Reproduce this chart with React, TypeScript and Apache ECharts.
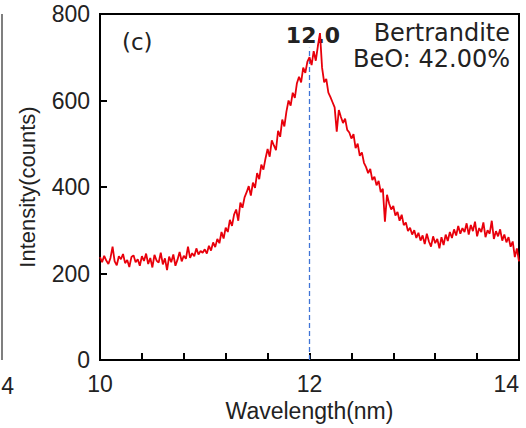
import React, { useEffect, useRef } from "react";
import * as echarts from "echarts";

const xStart = 10;
const xStep = 0.02;

const intensity: number[] = [
  // 10.00 - 10.98
  238, 226, 241, 230, 222, 236, 262, 228, 219, 240,
  233, 245, 224, 231, 215, 238, 242, 226, 233, 218,
  240, 229, 246, 222, 236, 214, 243, 230, 225, 248,
  221, 235, 208, 239, 226, 244, 218, 232, 250, 228,
  241, 234, 262, 236, 247, 240, 258, 244, 252, 248,
  // 11.00 - 11.98
  256, 246, 264, 253, 272, 261, 280, 270, 296, 281,
  306, 296, 324, 310, 336, 348, 322, 364, 352, 376,
  388, 402, 380, 410, 398, 432, 418, 452, 440, 466,
  488, 470, 508, 496, 485, 530, 516, 556, 540, 575,
  600, 588, 618, 606, 640, 655, 642, 676, 664, 690,
  // 12.00 - 12.98
  700, 682, 714, 692, 726, 756, 676, 642, 650, 618,
  608, 596, 584, 528, 578, 562, 548, 558, 532, 526,
  512, 522, 490, 500, 472, 480, 456, 446, 432, 442,
  416, 424, 404, 414, 388, 396, 320, 382, 362, 348,
  356, 334, 342, 322, 336, 312, 318, 298, 306, 290,
  // 13.00 - 14.00
  300, 282, 294, 276, 288, 268, 292, 274, 262, 286,
  270, 280, 258, 284, 266, 290, 275, 296, 282, 302,
  288, 310, 292, 305, 296, 316, 290, 312, 298, 320,
  286, 305, 296, 318, 284, 300, 292, 322, 280, 298,
  286, 302, 276, 290, 272, 284, 262, 274, 238, 258, 228,
];

const xTickLabels = [10, 12, 14];
const peakWavelength = 12.0;
const peakLineRange = [0, 722];
const peakLabel = "12.0";
const mineralName = "Bertrandite";
const beoLabel = "BeO: 42.00%";
const panelLabel = "(c)";

const FONT = "'Liberation Sans', Arial, sans-serif";
const FONT2 = "'DejaVu Sans', sans-serif";
const TXT = "#222";

export default function App() {
  const ref = useRef<HTMLDivElement>(null);

  useEffect(() => {
    if (!ref.current) return;
    const chart = echarts.init(ref.current, undefined, { renderer: "svg" });
    const data = intensity.map((v, i) => [xStart + i * xStep, v]);
    const peakLine = peakLineRange.map((v) => [peakWavelength, v]);
    chart.setOption({
      animation: false,
      grid: {
        left: 100,
        right: 7,
        top: 14,
        bottom: 68,
        show: true,
        borderColor: "#000",
        borderWidth: 2,
      },
      xAxis: {
        type: "value",
        min: 10,
        max: 14,
        interval: 0.4,
        name: "Wavelength(nm)",
        nameLocation: "middle",
        nameGap: 38,
        nameTextStyle: { fontFamily: FONT, fontSize: 23, color: TXT },
        axisLine: { show: true, lineStyle: { color: "#000", width: 2 } },
        axisTick: { show: true, inside: true, length: 7, lineStyle: { color: "#000", width: 2 } },
        splitLine: { show: false },
        axisLabel: {
          fontFamily: FONT,
          fontSize: 23,
          color: TXT,
          margin: 12,
          alignMaxLabel: "right",
          formatter: (v: number) => {
            const hit = xTickLabels.find((t) => Math.abs(t - v) < 1e-6);
            return hit !== undefined ? String(hit) : "";
          },
        },
      },
      yAxis: {
        type: "value",
        min: 0,
        max: 800,
        interval: 200,
        name: "Intensity(counts)",
        nameLocation: "middle",
        nameGap: 62,
        nameTextStyle: { fontFamily: FONT, fontSize: 22, color: TXT },
        axisLine: { show: true, lineStyle: { color: "#000", width: 2 } },
        axisTick: { show: true, inside: true, length: 7, lineStyle: { color: "#000", width: 2 } },
        splitLine: { show: false },
        axisLabel: { fontFamily: FONT, fontSize: 23, color: TXT, margin: 10 },
      },
      series: [
        {
          type: "line",
          data: peakLine,
          symbol: "none",
          silent: true,
          z: 2,
          lineStyle: { color: "#3f74d6", width: 1.3, type: [5, 3] },
        },
        {
          type: "line",
          data,
          symbol: "none",
          z: 3,
          lineStyle: { color: "#e8000b", width: 1.8 },
        },
      ],
      graphic: [
        {
          type: "text",
          x: 122,
          y: 42,
          style: {
            text: panelLabel,
            font: `23px ${FONT2}`,
            fill: TXT,
            align: "left",
            verticalAlign: "middle",
          },
        },
        {
          type: "text",
          x: 313,
          y: 35,
          style: {
            text: peakLabel,
            font: `bold 22px ${FONT2}`,
            fill: TXT,
            align: "center",
            verticalAlign: "middle",
          },
        },
        {
          type: "text",
          x: 510,
          y: 33,
          style: {
            text: mineralName,
            font: `24px ${FONT2}`,
            fill: TXT,
            align: "right",
            verticalAlign: "middle",
          },
        },
        {
          type: "text",
          x: 510,
          y: 59,
          style: {
            text: beoLabel,
            font: `24px ${FONT2}`,
            fill: TXT,
            align: "right",
            verticalAlign: "middle",
          },
        },
        {
          type: "line",
          shape: { x1: 2, y1: 14, x2: 2, y2: 360 },
          style: { stroke: "#555", lineWidth: 1.5 },
        },
        {
          type: "text",
          x: 14,
          y: 386,
          style: {
            text: "4",
            font: `23px ${FONT}`,
            fill: TXT,
            align: "right",
            verticalAlign: "middle",
          },
        },
      ],
    });
    return () => chart.dispose();
  }, []);

  return <div ref={ref} style={{ width: 526, height: 428, position: "absolute", left: 0, top: 0 }} />;
}
